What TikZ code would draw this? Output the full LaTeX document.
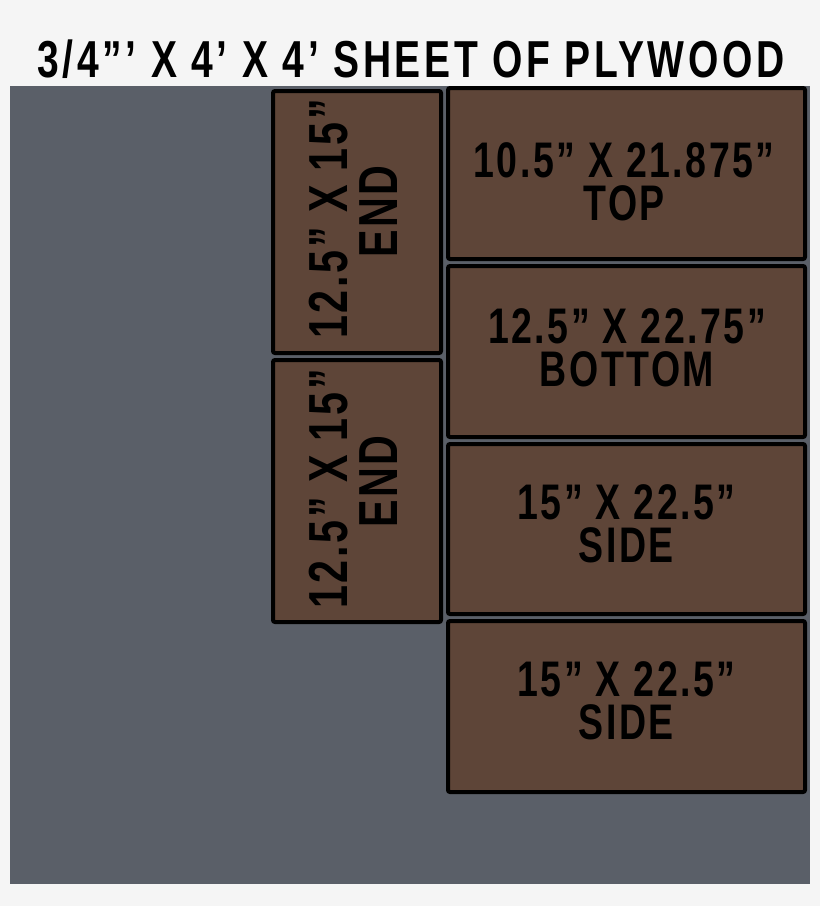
\documentclass[tikz,border=0pt]{standalone}
\usepackage{fontspec}
\usepackage{tikz}
\newfontfamily\cutfont{Liberation Sans}[FakeStretch=0.75, LetterSpace=5]
\definecolor{pagegray}{RGB}{245,245,245}
\definecolor{sheetgray}{RGB}{90,95,104}
\definecolor{plybrown}{RGB}{94,69,56}
\tikzset{
  piece/.style={draw=black, fill=plybrown, line width=4pt, rounded corners=2pt, inner sep=0pt},
  cutlabel/.style={align=center, inner sep=0pt, font=\cutfont\bfseries\fontsize{50}{43}\selectfont},
  endlabel/.style={align=center, inner sep=0pt, rotate=90, font=\cutfont\bfseries\fontsize{55}{50}\selectfont},
}

\begin{document}
\begin{tikzpicture}[x=1pt,y=-1pt]
\useasboundingbox[fill=pagegray] (0,0) rectangle (820,906);
\node[anchor=base, inner sep=0pt] (T0) at (411,77) {\cutfont\bfseries\fontsize{52}{52}\selectfont\addfontfeature{LetterSpace=7}3/4”’ X 4’ X 4’ SHEET OF PLYWOOD};
\fill[sheetgray] (10,86) rectangle (810,884);
% end pieces
\node[piece, minimum width=168pt, minimum height=262pt] (E1) at (357,222) {};
\node[piece, minimum width=168pt, minimum height=262pt] (E2) at (357,491) {};
\node[endlabel] (E1L) at (353,219) {12.5” X 15”\\\hspace*{15pt}END};
\node[endlabel] (E2L) at (353,489) {12.5” X 15”\\\hspace*{15pt}END};
% long pieces
\node[piece, minimum width=357pt, minimum height=171pt] (P0) at (626.5,173.5) {};
\node[piece, minimum width=357pt, minimum height=171pt] (P1) at (626.5,351.5) {};
\node[piece, minimum width=357pt, minimum height=170pt] (P2) at (626.5,529) {};
\node[piece, minimum width=357pt, minimum height=171pt] (P3) at (626.5,706.5) {};
\node[cutlabel] (P0L) at (624,181.5) {10.5” X 21.875”\\TOP};
\node[cutlabel] (P1L) at (627,347.5) {12.5” X 22.75”\\BOTTOM};
\node[cutlabel] (P2L) at (626.5,523.5) {15” X 22.5”\\SIDE};
\node[cutlabel] (P3L) at (626.5,701) {15” X 22.5”\\SIDE};
\end{tikzpicture}
\end{document}
